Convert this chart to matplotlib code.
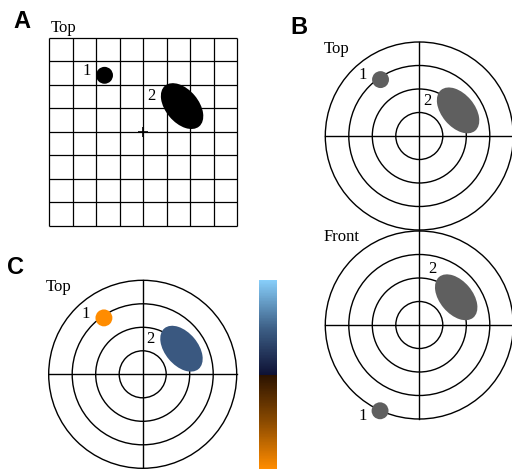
import matplotlib
matplotlib.use("Agg")
import matplotlib.pyplot as plt
from matplotlib.patches import Circle, Ellipse
from matplotlib.colors import LinearSegmentedColormap, Normalize
from matplotlib.colorbar import ColorbarBase

W, H = 512, 469
U = 23.5  # pixels per unit (grid cell / ring spacing)

# grid / ring layout (units)
grid_lines = [-4, -3, -2, -1, 0, 1, 2, 3, 4]
ring_radii = [1, 2, 3, 4]

# object positions (units, y up)
dot1_top = (-1.65, 2.4)
dot1_front = (-1.67, -3.65)
ell2_top = (1.65, 1.09)
ell2_front = (1.57, 1.18)
ell2_width = 2.26
ell2_height = 1.4
ell2_angle = -50
dot_radius = 0.36

lab1_top = (-2.42, 2.58)
lab2_top = (0.33, 1.5)
lab1_front = (-2.41, -3.86)
lab2_front = (0.57, 2.37)

# colorbar stops (position, colour) bottom -> top
cbar_pos = [0.0, 0.25, 0.499, 0.501, 0.75, 1.0]
cbar_cols = ["#FF8C00", "#8A4A00", "#2A1200", "#0E1235", "#3E6188", "#87CEFA"]

SERIF = "Liberation Serif"
SANS = "Liberation Sans"

fig = plt.figure(figsize=(W / 100, H / 100), dpi=100)


def make_ax(cx, cy, hw, hh):
    ax = fig.add_axes([(cx - hw * U) / W, (H - (cy + hh * U)) / H,
                       2 * hw * U / W, 2 * hh * U / H])
    ax.set_xlim(-hw, hw)
    ax.set_ylim(-hh, hh)
    ax.axis("off")
    return ax


def rings(ax):
    for r in ring_radii:
        ax.add_patch(Circle((0, 0), r, fill=False, ec="black", lw=1.0))
    ax.plot([-4, 4], [0, 0], color="black", lw=1.0)
    ax.plot([0, 0], [-4, 4], color="black", lw=1.0)


def objects(ax, dot, ell, dot_col, ell_col, l1, l2):
    ax.add_patch(Circle(dot, dot_radius, color=dot_col, lw=0, zorder=3))
    ax.add_patch(Ellipse(ell, ell2_width, ell2_height, angle=ell2_angle,
                         color=ell_col, lw=0, zorder=3))
    ax.text(*l1, "1", family=SERIF, fontsize=12, ha="center", va="center")
    ax.text(*l2, "2", family=SERIF, fontsize=12, ha="center", va="center")


# ---- A: grid view
ax = make_ax(143.3, 131.7, 4.6, 4.6)
ax.vlines(grid_lines, -4, 4, color="black", lw=0.9)
ax.hlines(grid_lines, -4, 4, color="black", lw=0.9)
ax.plot(0, 0, "+", color="black", ms=7, mew=1.2)
objects(ax, dot1_top, ell2_top, "black", "black", lab1_top, lab2_top)
ax.text(-3.38, 4.42, "Top", family=SERIF, fontsize=12, ha="center", va="center")

# ---- B: top
ax = make_ax(419.3, 136, 4.1, 4.1)
rings(ax)
objects(ax, dot1_top, ell2_top, "#5f5f5f", "#5f5f5f", lab1_top, lab2_top)
ax.text(-3.52, 3.72, "Top", family=SERIF, fontsize=12, ha="center", va="center")

# ---- B: front
ax = make_ax(419.3, 325, 4.1, 4.1)
rings(ax)
objects(ax, dot1_front, ell2_front, "#5f5f5f", "#5f5f5f", lab1_front, lab2_front)
ax.text(-3.3, 3.75, "Front", family=SERIF, fontsize=12, ha="center", va="center")

# ---- C: colour-coded top
ax = make_ax(142.7, 374.3, 4.1, 4.1)
rings(ax)
objects(ax, dot1_top, ell2_top, "#FF8C00", "#3A5880", lab1_top, lab2_top)
ax.text(-3.57, 3.73, "Top", family=SERIF, fontsize=12, ha="center", va="center")

# colorbar
cmap = LinearSegmentedColormap.from_list("depth", list(zip(cbar_pos, cbar_cols)))
cax = fig.add_axes([259.3 / W, 0, 18 / W, (469 - 280) / H])
cb = ColorbarBase(cax, cmap=cmap, norm=Normalize(0, 1), orientation="vertical")
cb.set_ticks([])
cb.outline.set_visible(False)

# panel letters
for lbl, x, y in [("A", 21.5, 21.5), ("B", 298.5, 27), ("C", 15.5, 267.5)]:
    fig.text(x / W, 1 - y / H, lbl, family=SANS, fontsize=17, fontweight="bold",
             ha="center", va="center")

fig.savefig("out.png", dpi=100)
